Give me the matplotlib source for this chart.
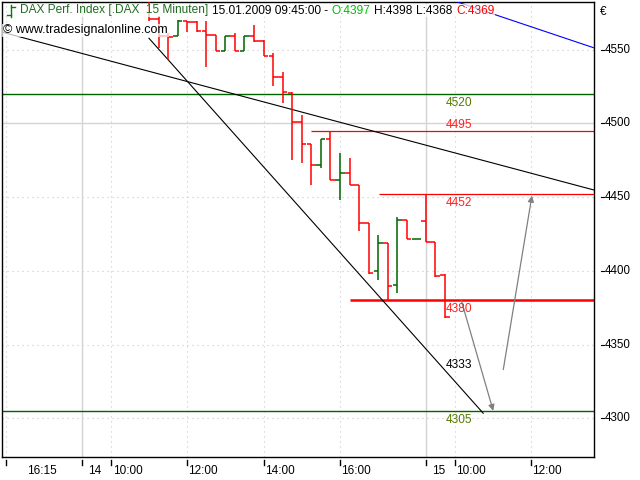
import matplotlib
matplotlib.use('Agg')
import matplotlib.pyplot as plt
import numpy as np

plt.rcParams['font.family'] = ['Liberation Sans', 'DejaVu Sans']

# ---- data (15-minute OHLC bars, index = bar number from 13.01 16:15) ----
bar_idx = list(range(15, 47))
opens = [4590, 4571, 4559.4, 4559.4, 4569.6, 4569.0, 4562.5, 4560.0, 4549.2, 4559.4,
         4549.2, 4559.4, 4556.0, 4545.8, 4531.3, 4520.9, 4500.7, 4485.9, 4471.8, 4489.5,
         4461.7, 4466.2, 4458.3, 4432.3, 4399.9, 4419.1, 4390.4, 4434.5, 4421.4, 4433.9,
         4419.8, 4397]
highs = [4595, 4573, 4561.2, 4570.0, 4569.7, 4569.7, 4569.7, 4560.0, 4559.4, 4561.2,
         4559.4, 4566.8, 4556.6, 4548.0, 4534.7, 4521.2, 4505.8, 4485.9, 4489.5, 4494.9,
         4479.8, 4476.4, 4458.3, 4432.3, 4424.4, 4419.1, 4436.4, 4434.5, 4421.4, 4451.5,
         4419.8, 4398]
lows = [4569.5, 4551.4, 4543.1, 4559.4, 4562.3, 4562.3, 4538.5, 4549.2, 4549.2, 4549.2,
        4549.2, 4555.5, 4545.8, 4525.4, 4513.7, 4474.9, 4473.0, 4458.3, 4469.6, 4461.7,
        4448.1, 4458.3, 4427.3, 4397.7, 4393.8, 4379.8, 4385.2, 4421.4, 4421.4, 4419.8,
        4396.1, 4368]
closes = [4571, 4559.4, 4558.9, 4569.7, 4568.8, 4562.5, 4560.0, 4549.2, 4559.4, 4549.2,
          4559.4, 4556.0, 4545.8, 4531.3, 4521.2, 4500.7, 4485.9, 4471.8, 4489.5, 4461.7,
          4466.6, 4458.3, 4432.3, 4398.8, 4419.1, 4389.8, 4434.5, 4421.4, 4421.4, 4419.8,
          4396.5, 4369]

tick_idx = [0, 8, 11, 19, 27, 35, 44, 47, 55]
tick_labels = ['16:15', '14', '10:00', '12:00', '14:00', '16:00', '15', '10:00', '12:00']
tick_label_off_px = [21, 6, 2, 1, 1, 1, 6, 1, 1]
day_sep_idx = [8, 44]
time_grid_idx = [0, 11, 19, 27, 35, 47, 55]

y_ticks = [4300, 4350, 4400, 4450, 4500, 4550]

# horizontal levels: (price, start index or None, color, lw, label, label color, label above)
levels = [
    (4520, None, '#006400', 1.0, '4520', '#557a00', False),
    (4495, 32.0, '#ff0000', 0.9, '4495', '#ff2020', True),
    (4452, 39.1, '#ff0000', 0.9, '4452', '#ff2020', False),
    (4380, 36.0, '#ff0000', 1.8, '4380', '#ff2020', False),
    (4305, None, '#006400', 1.0, '4305', '#557a00', False),
]
label_idx = 46.1
extra_label = (4333, '4333')

trend1 = [(0, 4561.3), (46, 4481.8)]          # long black trendline (infinite)
trend2 = [(15.0, 4557.8), (50.0, 4303.4)]      # steep black segment
trend3 = [(47.2, 4582.6), (61.5, 4551.5)]      # blue line
arrow_down = [(47.7, 4380), (51.05, 4305)]
arrow_up = [(52.1, 4333), (55.1, 4451)]

# ---- figure ----
fig = plt.figure(figsize=(6.4, 4.8), dpi=100)
W, H = 640, 480
ax_l, ax_r, ax_t, ax_b = 1.7, 594, 2, 457.3
ax = fig.add_axes([ax_l / W, 1 - ax_b / H, (ax_r - ax_l) / W, (ax_b - ax_t) / H])
ax.set_xlim(-0.42, 61.6)
ax.set_ylim(4273.5, 4582.4)
for s in ax.spines.values():
    s.set_color('black')
    s.set_linewidth(1.0)
ax.set_xticks([])
ax.set_yticks([])

# grid
for yv in y_ticks:
    if yv == 4500:
        ax.axhline(yv, color='#d4d4d4', lw=1.0, zorder=0)
    else:
        ax.axhline(yv, color='#c8c8c8', lw=0.8, ls=(0, (1, 3.5)), zorder=0)
for xv in time_grid_idx:
    ax.axvline(xv, color='#c8c8c8', lw=0.8, ls=(0, (1, 3.5)), zorder=0)
for xv in day_sep_idx:
    ax.axvline(xv, color='#d4d4d4', lw=1.0, zorder=0)

# levels
for price, start, col, lw, lab, lcol, above in levels:
    if start is None:
        ax.axhline(price, color=col, lw=lw, zorder=2)
    else:
        ax.hlines(price, start, ax.get_xlim()[1], color=col, lw=lw, zorder=2)
    ax.annotate(lab, xy=(label_idx, price), xytext=(0, 2.0 if above else -2.2),
                textcoords='offset points', ha='left',
                va='baseline' if above else 'top', color=lcol, fontsize=8.6, zorder=5)
ax.annotate(extra_label[1], xy=(label_idx, extra_label[0]), xytext=(0, 0.8),
            textcoords='offset points', ha='left', va='baseline', color='black',
            fontsize=8.6, zorder=5)

# trendlines
ax.axline(trend1[0], trend1[1], color='black', lw=0.8, zorder=3)
ax.plot([p[0] for p in trend2], [p[1] for p in trend2], color='black', lw=0.8, zorder=3)
ax.axline(trend3[0], trend3[1], color='#0000ff', lw=0.8, zorder=3)

# arrows
for a in (arrow_down, arrow_up):
    ax.annotate('', xy=a[1], xytext=a[0],
                arrowprops=dict(arrowstyle='-|>', color='#808080', lw=0.9,
                                mutation_scale=9, shrinkA=0, shrinkB=0), zorder=4)

# OHLC bars
bi = np.array(bar_idx, dtype=float)
o = np.array(opens); h = np.array(highs); l = np.array(lows); c = np.array(closes)
cols = np.where(c >= o, '#006400', '#ff0000')
tw = 0.48
ax.vlines(bi, l, h, colors=cols, lw=1.1, zorder=4)
ax.hlines(o, bi - tw, bi, colors=cols, lw=1.1, zorder=4)
ax.hlines(c, bi, bi + tw, colors=cols, lw=1.1, zorder=4)

# x tick marks and labels (below the frame)
trans_x = matplotlib.transforms.blended_transform_factory(ax.transData, ax.transAxes)
axh = ax_b - ax_t
for ti, lab, off in zip(tick_idx, tick_labels, tick_label_off_px):
    ax.plot([ti, ti], [-2.7 / axh, -7.7 / axh], color='black', lw=1.0,
            transform=trans_x, clip_on=False)
    ax.annotate(lab, xy=(ti, 0), xycoords=trans_x, xytext=(off * 0.72, -14.2 * 0.72),
                textcoords='offset points', ha='left', va='center', fontsize=8.5,
                color='black', annotation_clip=False)

# y tick marks and labels (right)
trans_y = matplotlib.transforms.blended_transform_factory(ax.transAxes, ax.transData)
axw = ax_r - ax_l
for yv in y_ticks:
    ax.plot([1 + 6.7 / axw, 1 + 9.5 / axw], [yv, yv], color='black', lw=0.8,
            transform=trans_y, clip_on=False)
    ax.text(1 + 11.0 / axw, yv, str(yv), transform=trans_y, ha='left', va='center',
            fontsize=8.3, color='black', clip_on=False)
fig.text(600 / W, 1 - 12 / H, '€', ha='left', va='center', fontsize=8.5)

# header
bb = dict(facecolor='white', alpha=0.72, edgecolor='none', pad=0.6)
t1 = fig.text(20 / W, 1 - 10.5 / H, 'DAX Perf. Index [.DAX  15 Minuten]', ha='left',
              va='center', fontsize=8.6, color='#1f6b1f', bbox=bb, zorder=10)
pieces = [('15.01.2009 09:45:00 -', 'black'), ('O:4397', '#00c000'),
          ('H:4398', 'black'), ('L:4368', 'black'), ('C:4369', '#ff0000')]
prev = t1
for txt, col in pieces:
    prev = ax.annotate(txt, xy=(1, 0), xycoords=prev, xytext=(2.6, 0),
                       textcoords='offset points', ha='left', va='bottom',
                       fontsize=8.6, color=col, bbox=bb, zorder=10,
                       annotation_clip=False)
# header bar icon
for xs, ys in (([11, 11], [5, 17]), ([7, 11], [15, 15]), ([11, 15], [7, 7])):
    fig.lines.append(matplotlib.lines.Line2D([v / W for v in xs], [1 - v / H for v in ys],
                                             color='#008000', lw=1.0,
                                             transform=fig.transFigure))

fig.text(3 / W, 1 - 30.5 / H, '© www.tradesignalonline.com', ha='left', va='center',
         fontsize=9.0, color='black', bbox=bb, zorder=10)

fig.savefig('out.png', dpi=100, facecolor='white')
